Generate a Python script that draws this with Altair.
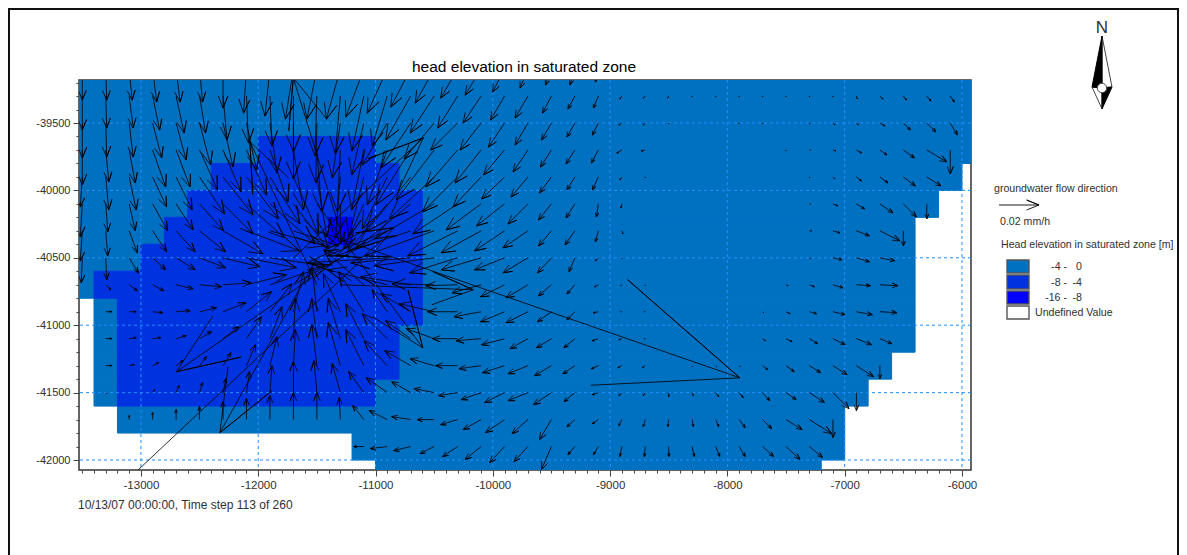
import math
import altair as alt
import pandas as pd

alt.data_transformers.disable_max_rows()

# map window
XMIN, XMAX = -13528, -5923
YMIN, YMAX = -42074, -39181
W, H = 892, 390

TITLE = "head elevation in saturated zone"
FOOTER = "10/13/07 00:00:00, Time step 113 of 260"
CLASSES = ["-4 - 0", "-8 - -4", "-16 - -8"]
CLASS_COLORS = ["#0070C0", "#0033E0", "#0000FF"]

# head classes: runs of 200 m cells
RUN_TOP = [-39000, -39800, -40000, -40200, -40800, -41200, -41400, -41600, -41800, -42000,
           -39600, -39800, -40000, -40200, -40400, -40600, -40800, -41000, -41200, -41400,
           -40200]
RUN_BOTTOM = [-39800, -40000, -40200, -40800, -41200, -41400, -41600, -41800, -42000, -42200,
              -39800, -40000, -40200, -40400, -40600, -40800, -41000, -41200, -41400, -41600,
              -40400]
RUN_LEFT = [-13600, -13600, -13600, -13600, -13400, -13400, -13400, -13200, -11200, -11000,
            -12000, -12400, -12600, -12800, -13000, -13400, -13200, -13200, -13200, -13200,
            -11400]
RUN_RIGHT = [-5800, -6000, -6200, -6400, -6400, -6600, -6800, -7000, -7000, -7200,
             -11000, -10800, -10600, -10600, -10600, -10600, -10600, -10800, -10800, -11000,
             -11200]
RUN_CLASS = [0] * 10 + [1] * 10 + [2]

GRID_X = [-13000, -12000, -11000, -10000, -9000, -8000, -7000, -6000]
GRID_Y = [-39500, -40000, -40500, -41000, -41500, -42000]

# flow vectors, one list per row of cells, west to east
COL_X0, COL_STEP = -13500, 200
ROW_Y0, ROW_STEP = -39100, -200
FLOW_ROW_00 = [(0,31),(1,31),(3,31),(4,33),(4,33),(3,33),(0,39),(-3,44),(-5,47),(-8,50),(-10,50),(-14,50),(-18,48),(-20,44),(-20,38),(-19,34),(-17,29),(-16,26),(-12,23),(-8,19),(-6,16),(-5,16),(-3,13)]
FLOW_ROW_01 = [(0,34),(1,32),(4,32),(7,34),(8,37),(6,37),(4,44),(2,47),(2,50),(0,56),(-2,60),(-5,58),(-12,55),(-15,50),(-25,44),(-24,37),(-20,32),(-18,27),(-14,24),(-13,22),(-9,17),(-7,13),(-5,12),(-2,3),(-2,2),(-1,2),(0,1),(0,1),(0,1),(0,1),(0,1),(0,1),(0,1),(1,3),(3,3),(3,4),(4,5),(4,6)]
FLOW_ROW_02 = [(0,35),(1,34),(4,34),(9,35),(10,37),(11,42),(10,44),(10,47),(7,50),(0,56),(-1,60),(-8,55),(-12,52),(-25,42),(-30,45),(-30,36),(-27,27),(-21,27),(-16,24),(-13,22),(-10,17),(-8,14),(-6,12),(-3,2),(-2,2),(0,1),(0,0),(0,0),(0,1),(0,1),(0,0),(0,1),(2,2),(2,2),(5,3),(7,7),(9,9),(7,12)]
FLOW_ROW_03 = [(0,35),(3,32),(6,33),(13,37),(14,37),(18,40),(18,42),(20,45),(18,52),(10,60),(5,62),(-3,62),(-12,60),(-20,55),(-35,55),(-38,50),(-32,37),(-26,33),(-21,25),(-15,22),(-11,17),(-9,14),(-7,13),(-5,3),(-4,1),(0,0),(0,0),(0,0),(0,0),(0,0),(0,1),(1,0),(3,1),(5,3),(7,5),(11,8),(20,12),(0,24)]
FLOW_ROW_04 = [(-2,30),(3,33),(7,33),(14,30),(16,33),(25,37),(30,38),(32,42),(30,47),(25,57),(10,60),(-5,62),(-15,60),(-25,52),(-45,55),(-45,42),(-35,35),(-28,30),(-23,22),(-17,20),(-12,16),(-8,13),(-6,13),(-2,3),(0,1),(0,0),(0,0),(0,0),(0,0),(0,0),(0,0),(0,1),(2,2),(5,4),(8,6),(12,9),(14,9)]
FLOW_ROW_05 = [(-2,33),(2,28),(6,27),(15,27),(17,26),(24,27),(30,30),(38,34),(45,40),(35,45),(106,144),(0,40),(-20,45),(-40,48),(-55,45),(-60,35),(-45,30),(-35,26),(-28,22),(-20,20),(-13,16),(-9,14),(-2,13),(-1,4),(0,0),(0,0),(0,0),(0,0),(0,0),(0,0),(0,0),(1,0),(5,2),(8,5),(13,9),(13,13),(0,15)]
FLOW_ROW_06 = [(-2,30),(2,25),(8,22),(14,21),(19,21),(26,21),(40,23),(53,20),(55,15),(45,15),(423,147),(-47,-153),(-40,20),(-60,25),(-75,25),(-70,25),(-50,25),(-40,22),(-30,20),(-25,17),(-13,15),(-10,14),(-3,11),(1,3),(0,0),(0,0),(0,0),(0,0),(0,0),(0,0),(0,0),(2,0),(7,2),(13,5),(20,10),(0,15)]
FLOW_ROW_07 = [(-1,25),(1,22),(9,15),(13,12),(19,12),(26,10),(37,9),(50,10),(55,8),(130,-120),(-97,175),(-164,114),(-400,376),(-80,5),(-60,5),(-60,8),(-48,15),(-40,12),(-30,12),(-25,15),(-14,15),(-6,14),(-3,3),(0,1),(0,0),(0,0),(0,0),(0,0),(0,0),(0,0),(0,0),(1,1),(9,2),(13,4),(15,3)]
FLOW_ROW_08 = [(0,0),(5,5),(8,6),(11,6),(17,4),(22,2),(28,-2),(40,-10),(60,-20),(100,-57),(-67,-143),(133,5),(-40,-35),(-60,-15),(-50,-8),(-42,-1),(-32,1),(-29,8),(-24,12),(-22,13),(-13,11),(-8,9),(-4,2),(-1,1),(0,1),(0,0),(0,0),(0,0),(0,0),(0,0),(2,1),(5,2),(10,3),(14,1),(18,1)]
FLOW_ROW_09 = [(0,0),(6,0),(7,0),(10,1),(14,-1),(17,-4),(23,-9),(25,-20),(22,-28),(10,-40),(-5,-45),(-17,-38),(-25,-40),(-15,-22),(-30,-18),(-35,-8),(-30,0),(-27,5),(-24,10),(-22,11),(-14,10),(-8,8),(-5,1),(-1,0),(-1,0),(0,0),(0,0),(0,0),(0,0),(1,1),(4,2),(7,2),(12,3),(16,3),(17,1)]
FLOW_ROW_10 = [(0,0),(6,0),(7,-1),(8,-1),(10,-3),(12,-7),(16,-12),(15,-22),(12,-32),(2,-40),(-5,-40),(-12,-40),(-18,-35),(-25,-25),(-25,-18),(-28,-10),(-25,0),(-25,2),(-23,6),(-18,10),(-15,9),(-11,9),(-6,2),(-3,1),(-1,0),(0,0),(0,0),(0,0),(0,0),(3,2),(6,3),(8,5),(12,6),(15,6),(12,5)]
FLOW_ROW_11 = [(0,0),(6,0),(5,-1),(6,-3),(7,-5),(7,-9),(8,-13),(9,-21),(7,-29),(2,-36),(-5,-41),(-12,-43),(-18,-36),(-23,-25),(-26,-15),(-24,-7),(-22,0),(-22,3),(-22,7),(-20,8),(-17,10),(-12,8),(-7,3),(-4,2),(-3,2),(0,0),(0,1),(1,1),(1,1),(5,4),(8,6),(11,7),(14,9),(17,11),(0,13)]
FLOW_ROW_12 = [(0,0),(1,1),(0,0),(2,-3),(3,-7),(3,-10),(3,-14),(3,-21),(2,-27),(0,-31),(-3,-32),(-8,-29),(-15,-21),(-21,-15),(-19,-11),(-20,-4),(-19,3),(-20,7),(-20,10),(-20,8),(-18,12),(-11,9),(-6,2),(-3,3),(-2,3),(0,4),(1,3),(3,4),(4,5),(7,8),(10,7),(15,10),(16,16),(0,18)]
FLOW_ROW_13 = [(0,0),(0,0),(0,-4),(0,-7),(0,-10),(0,-13),(0,-18),(0,-21),(0,-24),(0,-27),(0,-27),(-1,-22),(-11,-14),(-18,-9),(-19,-3),(-17,0),(-17,5),(-18,10),(-19,13),(-16,14),(-12,20),(-8,7),(-6,4),(-3,6),(-2,7),(-1,7),(1,7),(3,7),(6,8),(9,9),(16,10),(22,14),(0,18)]
FLOW_ROW_14 = [(0,0)]*12 + [(-10,0),(-17,2),(-17,4),(-14,7),(-15,10),(-16,13),(-15,16),(-14,15),(-10,23),(-7,8),(-5,8),(-2,10),(-1,10),(0,10),(2,10),(4,10),(6,10),(11,10),(14,13),(13,11)]
FLOW_ROWS = [FLOW_ROW_00, FLOW_ROW_01, FLOW_ROW_02, FLOW_ROW_03, FLOW_ROW_04,
             FLOW_ROW_05, FLOW_ROW_06, FLOW_ROW_07, FLOW_ROW_08, FLOW_ROW_09,
             FLOW_ROW_10, FLOW_ROW_11, FLOW_ROW_12, FLOW_ROW_13, FLOW_ROW_14]

SX = W / (XMAX - XMIN)
SY = H / (YMAX - YMIN)


def glyph(aid, x, y, u, v):
    """Tail, tip and two barbs; the head is a third of the arrow, opening 22 degrees."""
    tx, ty = x + u / SX, y - v / SY
    pts = [(x, y), (tx, ty)]
    a = math.radians(22)
    for s in (1, -1):
        bx = -(u * math.cos(s * a) - v * math.sin(s * a)) / 3
        by = -(u * math.sin(s * a) + v * math.cos(s * a)) / 3
        pts.append((tx + bx / SX, ty - by / SY))
        pts.append((tx, ty))
    return [{"id": aid, "ord": k, "x": p[0], "y": p[1]} for k, p in enumerate(pts[:-1])]


rows = []
aid = 0
for j, row in enumerate(FLOW_ROWS):
    for i, (u, v) in enumerate(row):
        if u == 0 and v == 0:
            continue
        rows += glyph(aid, COL_X0 + i * COL_STEP, ROW_Y0 + j * ROW_STEP, u, v)
        aid += 1
arrows = pd.DataFrame(rows)


def px_x(px):
    return XMIN + (px - 79) / SX


def px_y(py):
    return YMAX - (py - 80) / SY


key = pd.DataFrame(glyph(0, px_x(999), px_y(205), 40, 0))

cells = pd.DataFrame({"top": RUN_TOP, "bottom": RUN_BOTTOM, "left": RUN_LEFT, "right": RUN_RIGHT,
                      "head": [CLASSES[c] for c in RUN_CLASS]})

FONT = "Liberation Sans"
TEXT = "#303030"
x_scale = alt.Scale(domain=[XMIN, XMAX], nice=False, zero=False)
y_scale = alt.Scale(domain=[YMIN, YMAX], nice=False, zero=False)
x_axis = alt.Axis(title=None, values=list(range(-13500, -5900, 100)), grid=False, domain=False,
                  tickSize={"condition": {"test": "datum.value % 1000 === 0", "value": 6}, "value": 3},
                  tickColor="#444444", labelExpr="datum.value % 1000 === 0 ? toString(datum.value) : ''",
                  labelFont=FONT, labelFontSize=11.5, labelColor=TEXT, labelOverlap=False, labelPadding=3)
y_axis = alt.Axis(title=None, values=list(range(-42000, -39100, 100)), grid=False, domain=False,
                  tickSize={"condition": {"test": "datum.value % 500 === 0", "value": 6}, "value": 3},
                  tickColor="#444444", labelExpr="datum.value % 500 === 0 ? toString(datum.value) : ''",
                  labelFont=FONT, labelFontSize=11, labelColor=TEXT, labelOverlap=False, labelPadding=3)


def X(f):
    return alt.X(f, type="quantitative", scale=x_scale, axis=x_axis)


def Y(f):
    return alt.Y(f, type="quantitative", scale=y_scale, axis=y_axis)


color = alt.Scale(domain=CLASSES, range=CLASS_COLORS)
raster = alt.Chart(cells).mark_rect(clip=True, strokeWidth=1).encode(
    x=X("left"), x2="right", y=Y("top"), y2="bottom",
    color=alt.Color("head:N", scale=color, legend=None),
    stroke=alt.Color("head:N", scale=color, legend=None),
)
grid_v = alt.Chart(pd.DataFrame({"x": GRID_X})).mark_rule(color="#1E90FF", strokeDash=[3, 3], strokeWidth=1).encode(x=X("x"))
grid_h = alt.Chart(pd.DataFrame({"y": GRID_Y})).mark_rule(color="#1E90FF", strokeDash=[3, 3], strokeWidth=1).encode(y=Y("y"))
flow = alt.Chart(arrows).mark_line(clip=True, color="#000000", strokeWidth=0.9, opacity=0.9, strokeJoin="miter").encode(
    x=X("x"), y=Y("y"), detail="id:N", order="ord:Q")
key_arrow = alt.Chart(key).mark_line(clip=False, color="#000000", strokeWidth=0.9).encode(
    x=X("x"), y=Y("y"), detail="id:N", order="ord:Q")


def at(px, py):
    return {"x": alt.value(px - 79), "y": alt.value(py - 80)}


def label(txt, px, py, size=10.6, align="left", color=TEXT):
    return alt.Chart(pd.DataFrame({"t": [txt]})).mark_text(
        text=txt, font=FONT, fontSize=size, align=align, baseline="middle", color=color
    ).encode(**at(px, py))


def swatch(top, bottom, fill):
    return alt.Chart(pd.DataFrame({"t": [0]})).mark_rect(fill=fill, stroke="#555555", strokeWidth=1.4).encode(
        x=alt.value(1007 - 79), x2=alt.value(1029 - 79), y=alt.value(top - 80), y2=alt.value(bottom - 80))


def frame(**ch):
    return alt.Chart(pd.DataFrame({"t": [0]})).mark_rule(color="#111111", strokeWidth=2).encode(**ch)


N_DARK = "M0,-1L-0.27,0.38L0,0.4ZM0,0.97L0.27,0.38L0,0.4Z"
N_LIGHT = "M0,-1L0.27,0.38L0,0.4ZM0,0.97L-0.27,0.38L0,0.4Z"


def shape(path, fill, stroke):
    return alt.Chart(pd.DataFrame({"t": [0]})).mark_point(
        shape=path, size=74 * 74, filled=True, fill=fill, stroke=stroke, strokeWidth=1, opacity=1
    ).encode(**at(1102, 73))


layers = [
    raster, grid_v, grid_h, flow, key_arrow,
    frame(x=alt.value(-70), y=alt.value(-72), y2=alt.value(475)),
    frame(x=alt.value(1178 - 79), y=alt.value(-72), y2=alt.value(475)),
    frame(x=alt.value(-71), x2=alt.value(1179 - 79), y=alt.value(-71)),
    label(TITLE, 524, 67, size=15.5, align="center", color="#000000"),
    label(FOOTER, 78, 505, size=12),
    label("N", 1102, 28, size=17, align="center"),
    shape(N_LIGHT, "#FFFFFF", "#444444"),
    shape(N_DARK, "#000000", "#000000"),
    alt.Chart(pd.DataFrame({"t": [0]})).mark_point(shape="circle", size=90, filled=True, fill="#FFFFFF",
                                                   stroke="#444444", strokeWidth=1, opacity=1).encode(**at(1102, 88)),
    label("groundwater flow direction", 994, 189),
    label("0.02 mm/h", 1000, 222),
    label("Head elevation in saturated zone [m]", 1001, 245),
    swatch(260, 273, CLASS_COLORS[0]),
    swatch(275, 289, CLASS_COLORS[1]),
    swatch(291, 304, CLASS_COLORS[2]),
    swatch(306, 319, "#FFFFFF"),
    label("-4 -", 1067, 267, align="right"), label("0", 1082, 267, align="right"),
    label("-8 -", 1067, 283, align="right"), label("-4", 1082, 283, align="right"),
    label("-16 -", 1067, 298, align="right"), label("-8", 1082, 298, align="right"),
    label("Undefined Value", 1035, 313),
]

chart = alt.layer(*layers).properties(
    width=W, height=H,
    padding={"left": 71, "top": 72, "right": 208, "bottom": 85},
    autosize=alt.AutoSizeParams(type="none"),
    background="#FFFFFF",
).configure_view(stroke="#333333", strokeWidth=1.5)

chart.save("out.html", embed_options={"renderer": "svg", "actions": False})
